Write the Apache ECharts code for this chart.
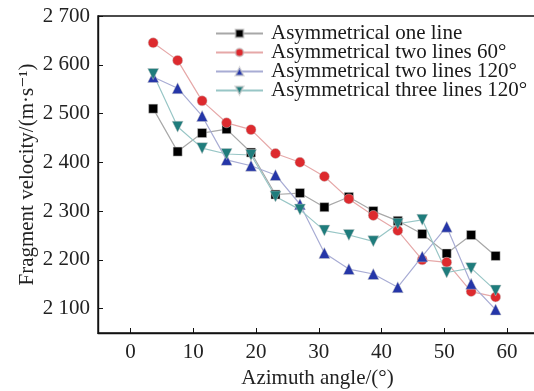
<!DOCTYPE html>
<html>
<head>
<meta charset="utf-8">
<script src="https://cdn.jsdelivr.net/npm/echarts@6/dist/echarts.min.js"></script>
<style>
  html, body { margin: 0; padding: 0; background: #fff; }
  #chart { width: 534px; height: 391px; }
</style>
</head>
<body>
<div id="chart"></div>
<script>
// azimuth angles (deg) of the measured points
const angles = [3.6, 7.5, 11.4, 15.3, 19.2, 23.1, 27.0, 30.9, 34.8, 38.7, 42.6, 46.5, 50.4, 54.3, 58.2]

const oneLine = [2510, 2422, 2460, 2468, 2420, 2334, 2337, 2308, 2329, 2300, 2280, 2253, 2213, 2251, 2208]
const twoLines60 = [2645, 2609, 2526, 2481, 2467, 2418, 2400, 2371, 2325, 2291, 2260, 2200, 2195, 2135, 2124]
const twoLines120 = [2575, 2552, 2495, 2405, 2393, 2374, 2314, 2214, 2181, 2171, 2144, 2207, 2268, 2151, 2098]
const threeLines120 = [2581, 2473, 2429, 2417, 2415, 2330, 2303, 2260, 2251, 2238, 2274, 2282, 2174, 2183, 2137]

const xTicks = [0, 10, 20, 30, 40, 50, 60]
const yTicks = [2100, 2200, 2300, 2400, 2500, 2600, 2700]

const serif = "'Liberation Serif', 'DejaVu Serif', serif"

function pairs(ys) {
  return ys.map((v, i) => [angles[i], v])
}

function makeSeries(name, ys, symbol, size, color, lineColor, rotate) {
  return {
    name,
    type: "line",
    data: pairs(ys),
    symbol,
    symbolSize: size,
    symbolRotate: rotate || 0,
    showAllSymbol: true,
    lineStyle: { color: lineColor, width: 1.2 },
    itemStyle: { color, borderColor: "rgba(200,200,200,0.6)", borderWidth: 0.8 },
    emphasis: { disabled: true },
    z: 3,
  }
}

const chart = echarts.init(document.getElementById("chart"), null, { renderer: "canvas" })
chart.setOption({
  animation: false,
  backgroundColor: "#fff",
  grid: {
    left: 98, top: 16, right: -3, bottom: 58,
    outerBoundsMode: "none",
    containLabel: false,
    show: true, borderColor: "#111", borderWidth: 1.4, backgroundColor: "transparent",
  },
  legend: {
    orient: "vertical",
    left: 210,
    top: 18,
    itemWidth: 47,
    itemHeight: 10,
    itemGap: -2,
    textStyle: { fontFamily: serif, fontSize: 21, lineHeight: 19, color: "#1a1a1a", padding: [0, 0, 0, 3] },
    data: ["Asymmetrical one line", "Asymmetrical two lines 60°", "Asymmetrical two lines 120°", "Asymmetrical three lines 120°"],
  },
  xAxis: {
    type: "value",
    min: -5.2,
    max: 64.8,
    name: "Azimuth angle/(°)",
    nameLocation: "middle",
    nameGap: 35,
    nameMoveOverlap: false,
    nameTextStyle: { fontFamily: serif, fontSize: 21, color: "#222" },
    axisLine: { show: true, onZero: false, lineStyle: { color: "#111", width: 1.4 } },
    axisTick: { show: true, inside: true, length: 5, customValues: xTicks, lineStyle: { color: "#111" } },
    axisLabel: { fontFamily: serif, fontSize: 21, color: "#222", margin: 9, customValues: xTicks },
    splitLine: { show: false },
  },
  yAxis: {
    type: "value",
    min: 2050,
    max: 2700,
    name: "Fragment velocity/(m·s⁻¹)",
    nameLocation: "middle",
    nameRotate: 90,
    nameGap: 60,
    nameMoveOverlap: false,
    nameTextStyle: { fontFamily: serif, fontSize: 21, color: "#222" },
    axisLine: { show: true, onZero: false, lineStyle: { color: "#111", width: 1.4 } },
    axisTick: { show: true, inside: true, length: 5, customValues: yTicks, lineStyle: { color: "#111" } },
    axisLabel: {
      fontFamily: serif, fontSize: 21, color: "#222", margin: 8, customValues: yTicks,
      formatter: (v) => String(v).replace(/^(\d)(\d{3})$/, "$1 $2"),
    },
    splitLine: { show: false },
  },
  series: [
    makeSeries("Asymmetrical one line", oneLine, "rect", 9, "#000000", "#a8a8a8"),
    makeSeries("Asymmetrical two lines 60°", twoLines60, "circle", 10, "#dd2a2e", "#e6a8a8"),
    makeSeries("Asymmetrical two lines 120°", twoLines120, "triangle", 11, "#2536a8", "#a8acd4"),
    makeSeries("Asymmetrical three lines 120°", threeLines120, "triangle", 11, "#1f7c7c", "#98c6c6", 180),
  ],
})
</script>
</body>
</html>
